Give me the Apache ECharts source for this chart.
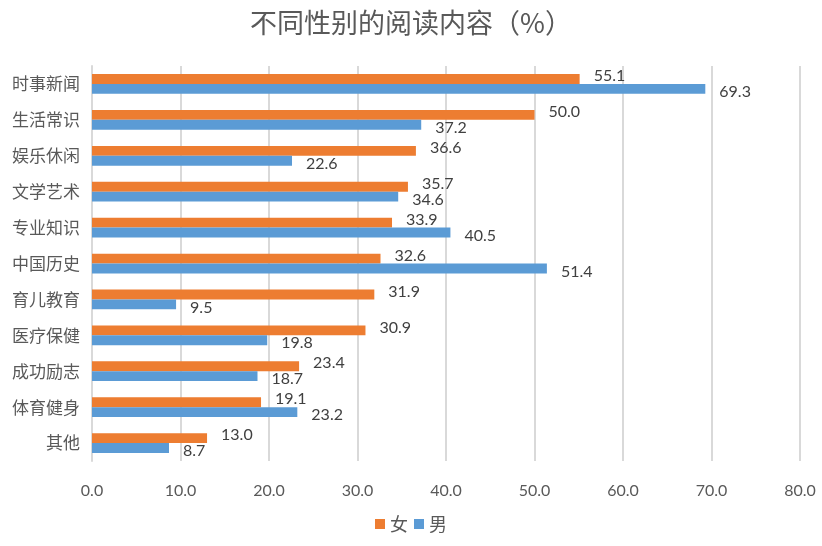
<!DOCTYPE html>
<html><head><meta charset="utf-8">
<script src="https://cdn.jsdelivr.net/npm/echarts@6/dist/echarts.min.js"></script>
<style>html,body{margin:0;padding:0;background:#fff}#c{width:822px;height:546px}</style>
</head><body><div id="c"></div>
<script>
const categories = ['时事新闻','生活常识','娱乐休闲','文学艺术','专业知识','中国历史','育儿教育','医疗保健','成功励志','体育健身','其他'];
const female = [55.1,50.0,36.6,35.7,33.9,32.6,31.9,30.9,23.4,19.1,13.0];
const male = [69.3,37.2,22.6,34.6,40.5,51.4,9.5,19.8,18.7,23.2,8.7];
const seriesNames = ['女','男'];
const xTicks = [0,10,20,30,40,50,60,70,80];

const chart = echarts.init(document.getElementById('c'));
const numFont = 'Lato, "Noto Sans CJK SC", sans-serif';
chart.setOption({
  animation:false,
  title:{text:'不同性别的阅读内容（%）',left:'center',top:4,textStyle:{fontSize:27,fontWeight:'normal',color:'#595959',fontFamily:'"Noto Sans CJK SC", sans-serif'}},
  legend:{bottom:8,left:'center',itemWidth:10,itemHeight:10,itemGap:6,icon:'rect',data:seriesNames,textStyle:{fontSize:18,color:'#595959',fontFamily:'"Noto Sans CJK SC", sans-serif'}},
  grid:{left:92,right:22,top:66,bottom:85,containLabel:false},
  xAxis:{type:'value',min:xTicks[0],max:xTicks[xTicks.length-1],interval:10,
    axisLine:{show:false},axisTick:{show:false},
    splitLine:{lineStyle:{color:'#D9D9D9',width:2}},
    axisLabel:{margin:22,fontSize:16,color:'#595959',fontFamily:numFont,formatter:v=>v.toFixed(1)}},
  yAxis:{type:'category',data:categories,inverse:true,
    axisLine:{lineStyle:{color:'#D9D9D9',width:2}},axisTick:{show:false},
    axisLabel:{margin:12,fontSize:17,color:'#595959',fontFamily:'"Noto Sans CJK SC", sans-serif'}},
  series:[
    {name:seriesNames[0],type:'bar',data:female,barGap:'0%',barCategoryGap:'45%',itemStyle:{color:'#ED7D31'},
     label:{show:true,position:'right',distance:14,offset:[0,-3],formatter:p=>p.value.toFixed(1),fontSize:16,color:'#404040',fontFamily:numFont}},
    {name:seriesNames[1],type:'bar',data:male,barGap:'0%',barCategoryGap:'45%',itemStyle:{color:'#5B9BD5'},
     label:{show:true,position:'right',distance:14,offset:[0,3],formatter:p=>p.value.toFixed(1),fontSize:16,color:'#404040',fontFamily:numFont}}
  ]
});
</script></body></html>
